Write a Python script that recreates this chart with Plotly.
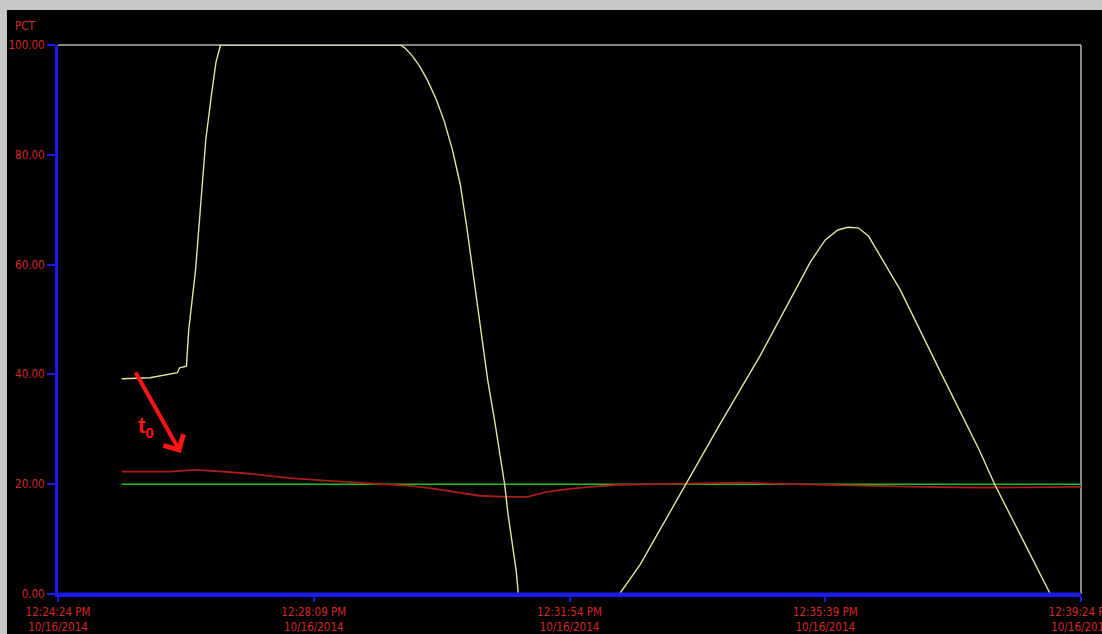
import plotly.graph_objects as go

DAY = "2014-10-16 "

# Valve output (yellow), PCT
yellow_time = [
    "12:25:20", "12:25:45", "12:26:09", "12:26:11", "12:26:17", "12:26:19",
    "12:26:25", "12:26:30", "12:26:34", "12:26:39", "12:26:43", "12:26:47",
    "12:29:25", "12:29:29", "12:29:35", "12:29:42", "12:29:49", "12:29:57",
    "12:30:04", "12:30:11", "12:30:18", "12:30:24", "12:30:30", "12:30:36",
    "12:30:42", "12:30:48", "12:30:52", "12:30:55", "12:30:57", "12:31:00",
    "12:31:03", "12:31:07", "12:31:09", "12:32:38", "12:32:56", "12:33:31",
    "12:34:06", "12:34:42", "12:35:08", "12:35:26", "12:35:39", "12:35:50",
    "12:35:59", "12:36:08", "12:36:17", "12:36:27", "12:36:45", "12:37:20",
    "12:37:55", "12:38:08", "12:38:30", "12:38:57", "12:39:24",
]
yellow_pct = [
    39.2, 39.4, 40.3, 41.2, 41.5, 48.1,
    59.0, 71.8, 82.7, 90.9, 96.9, 100.0,
    100.0, 99.5, 98.2, 96.2, 93.6, 90.0,
    86.0, 80.9, 74.5, 66.3, 57.2, 48.1,
    39.0, 31.7, 26.2, 22.6, 19.9, 14.4,
    9.8, 4.4, 0.0, 0.0, 5.3, 18.0,
    30.8, 43.5, 53.6, 60.5, 64.5, 66.3,
    66.8, 66.7, 65.2, 61.7, 55.4, 40.6,
    26.0, 20.0, 10.9, 0.0, 0.0,
]

# Process variable (red), PCT
red_time = [
    "12:25:20", "12:26:02", "12:26:25", "12:26:42", "12:27:13", "12:27:48",
    "12:28:23", "12:29:07", "12:29:34", "12:29:51", "12:30:12", "12:30:35",
    "12:30:59", "12:31:17", "12:31:34", "12:31:52", "12:32:12", "12:32:38",
    "12:33:14", "12:33:49", "12:34:24", "12:34:50", "12:35:34", "12:36:18",
    "12:37:02", "12:37:55", "12:39:24",
]
red_pct = [
    22.3, 22.3, 22.6, 22.4, 21.9, 21.1,
    20.6, 20.0, 19.7, 19.3, 18.6, 17.9,
    17.7, 17.7, 18.6, 19.1, 19.5, 19.9,
    20.0, 20.1, 20.3, 20.1, 19.9, 19.7,
    19.5, 19.4, 19.5,
]

# Setpoint (green), PCT
green_time = ["12:25:20", "12:39:24"]
green_pct = [20.0, 20.0]

x_tick_times = ["12:24:24", "12:28:09", "12:31:54", "12:35:39", "12:39:24"]
x_tick_text = [
    "12:24:24 PM<br>10/16/2014",
    "12:28:09 PM<br>10/16/2014",
    "12:31:54 PM<br>10/16/2014",
    "12:35:39 PM<br>10/16/2014",
    "12:39:24 PM<br>10/16/2014",
]
y_tick_vals = [0, 20, 40, 60, 80, 100]
y_tick_text = ["0.00", "20.00", "40.00", "60.00", "80.00", "100.00"]


def stamp(times):
    return [DAY + t for t in times]


LABEL_FONT = dict(
    family="DejaVu Sans Condensed, Liberation Sans, sans-serif",
    size=11.5,
    color="#d42a2a",
)
AXIS_BLUE = "#1a1aee"
FRAME_GRAY = "#b4b4b4"

fig = go.Figure()
fig.add_trace(go.Scatter(
    x=stamp(green_time), y=green_pct, mode="lines",
    line=dict(color="#22c022", width=1.5), hoverinfo="skip",
))
fig.add_trace(go.Scatter(
    x=stamp(red_time), y=red_pct, mode="lines",
    line=dict(color="#a81c1c", width=1.8), hoverinfo="skip",
))
fig.add_trace(go.Scatter(
    x=stamp(yellow_time), y=yellow_pct, mode="lines",
    line=dict(color="#e4e49a", width=1.4), hoverinfo="skip",
))

fig.update_layout(
    width=1102, height=634,
    margin=dict(l=58, r=21, t=45, b=40),
    paper_bgcolor="#000000", plot_bgcolor="#000000",
    showlegend=False,
    xaxis=dict(
        type="date",
        range=[DAY + x_tick_times[0], DAY + x_tick_times[-1]],
        tickvals=stamp(x_tick_times), ticktext=x_tick_text,
        showgrid=False, zeroline=False,
        showline=True, linecolor=AXIS_BLUE, linewidth=3,
        ticks="outside", ticklen=5, tickwidth=2, tickcolor=AXIS_BLUE,
        tickfont=LABEL_FONT, fixedrange=True,
        automargin=False, ticklabeloverflow="allow",
    ),
    yaxis=dict(
        range=[0, 100],
        tickvals=y_tick_vals, ticktext=y_tick_text,
        showgrid=False, zeroline=False,
        showline=True, linecolor=AXIS_BLUE, linewidth=3,
        ticks="outside", ticklen=8, tickwidth=2, tickcolor=AXIS_BLUE,
        tickfont=LABEL_FONT, fixedrange=True,
        automargin=False, ticklabeloverflow="allow",
    ),
    shapes=[
        # window frame bands along the top and left edges
        dict(type="rect", xref="paper", yref="paper", layer="below",
             x0=-0.06, x1=1.03, y0=1.0638, y1=1.09,
             fillcolor="#c8c8c8", line=dict(width=0)),
        dict(type="rect", xref="paper", yref="paper", layer="below",
             x0=-0.06, x1=-0.0499, y0=-0.08, y1=1.09,
             fillcolor="#c8c8c8", line=dict(width=0)),
        # plot frame, top and right
        dict(type="line", xref="paper", yref="paper", layer="below",
             x0=0, x1=1, y0=1, y1=1, line=dict(color=FRAME_GRAY, width=1.5)),
        dict(type="line", xref="paper", yref="paper", layer="below",
             x0=1, x1=1, y0=0, y1=1, line=dict(color=FRAME_GRAY, width=1.5)),
        # baseline drawn over the traces so a zero reading sits under the axis
        dict(type="line", xref="paper", yref="paper", layer="above",
             x0=0, x1=1, y0=0, y1=0, line=dict(color=AXIS_BLUE, width=3)),
    ],
    annotations=[
        dict(text="PCT", xref="paper", yref="paper", x=-0.0443, y=1.0355,
             xanchor="left", yanchor="middle", showarrow=False, font=LABEL_FONT),
        dict(x=DAY + "12:26:12", y=25.7, xref="x", yref="y", text="",
             showarrow=True, arrowhead=4, arrowsize=1.1, arrowwidth=4,
             arrowcolor="#ff1414", ax=-46, ay=-82),
        dict(x=DAY + "12:25:41", y=30.4, xref="x", yref="y",
             text="<b>t<sub>0</sub></b>", showarrow=False,
             font=dict(family="Liberation Sans, Arial, sans-serif", size=22,
                       color="#ff1414")),
    ],
)

fig.write_html("out.html")
